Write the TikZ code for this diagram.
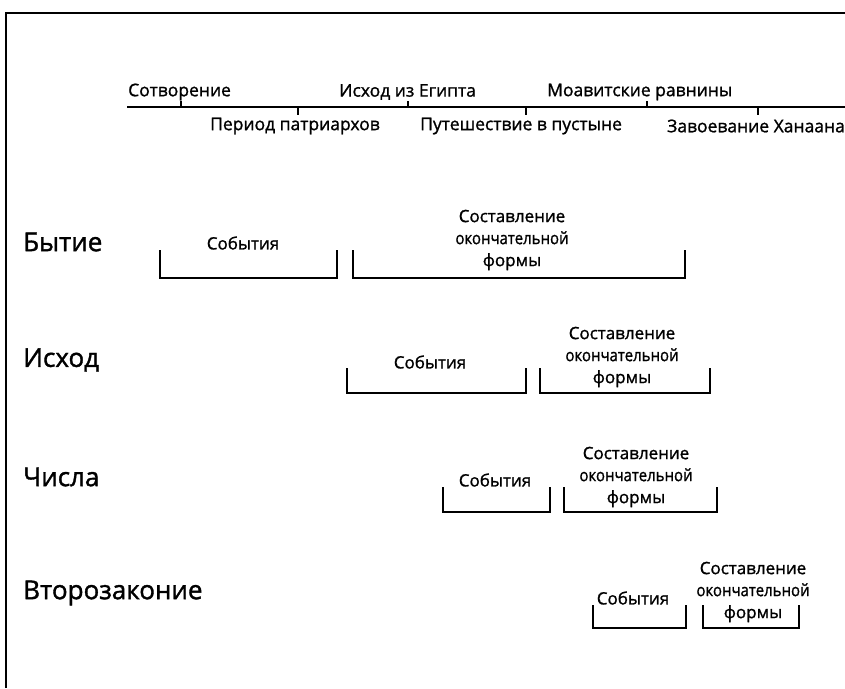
\documentclass[tikz,border=0pt]{standalone}
\usepackage{fontspec}
\setmainfont{Open Sans}
\newfontfamily\smfont[FakeBold=1.2]{Open Sans}
\newfontfamily\bkfont[FakeBold=1.4]{Open Sans}
\newcommand{\narrowword}[1]{\scalebox{0.88}[1]{#1}}
\begin{document}
\begin{tikzpicture}[x=1pt,y=-1pt,
  frame/.style={line width=2.5pt,black},
  axis/.style={line width=2pt,black},
  tick/.style={line width=1.5pt,black},
  brk/.style={line width=2pt,black},
  tl/.style={font=\smfont\fontsize{17.5}{20}\selectfont,inner sep=0pt,anchor=west},
  book/.style={font=\bkfont\fontsize{26}{30}\selectfont,inner sep=0pt,anchor=west},
  ev/.style={font=\smfont\fontsize{17}{20}\selectfont,inner sep=0pt},
  comp/.style={font=\smfont\fontsize{17}{22}\selectfont,inner sep=0pt,align=center}]
\useasboundingbox (0,0) rectangle (845,688);
\fill[white] (0,0) rectangle (845,688);
% frame
\draw[frame] (6,688) -- (6,13) -- (845,13);
% timeline
\coordinate (ts) at (127,107);
\coordinate (te) at (845,107);
\draw[axis] (ts) -- (te);
\draw[tick] (181,107) -- (181,101);
\draw[tick] (408,107) -- (408,101);
\draw[tick] (647,107) -- (647,101);
\draw[tick] (298,107) -- (298,115);
\draw[tick] (526,107) -- (526,115);
\draw[tick] (758,107) -- (758,115);
\node[tl] (t1) at (128,92) {Сотворение};
\node[tl] (t2) at (339,92) {Исход из Египта};
\node[tl] (t3) at (547,92) {Моавитские равнины};
\node[tl] (b1) at (210,126) {Период патриархов};
\node[tl] (b2) at (420,126) {Путешествие в пустыне};
\node[tl] (b3) at (667,126) {Завоевание Ханаана};
% books
\node[book] (gen) at (23,242) {Бытие};
\node[book] (exo) at (23,360) {Исход};
\node[book] (num) at (23,477) {Числа};
\node[book] (deu) at (23,593) {Второзаконие};
% row 1
\draw[brk] (160,250) |- (337,278) -- (337,250);
\draw[brk] (353,250) |- (685,278) -- (685,250);
\node[ev] (ev1) at (243,243) {События};
\node[comp] (cf1) at (512,240) {Составление\\\narrowword{окончательной}\\формы};
% row 2
\draw[brk] (347,368) |- (526,393) -- (526,368);
\draw[brk] (540,368) |- (710,393) -- (710,368);
\node[ev] (ev2) at (430,362) {События};
\node[comp] (cf2) at (622,357) {Составление\\\narrowword{окончательной}\\формы};
% row 3
\draw[brk] (443,487) |- (550,512) -- (550,487);
\draw[brk] (564,487) |- (717,512) -- (717,487);
\node[ev] (ev3) at (495,480) {События};
\node[comp] (cf3) at (636,477) {Составление\\\narrowword{окончательной}\\формы};
% row 4
\draw[brk] (593,605) |- (686,628) -- (686,605);
\draw[brk] (703,605) |- (799,628) -- (799,605);
\node[ev] (ev4) at (633,598) {События};
\node[comp] (cf4) at (753,592) {Составление\\\narrowword{окончательной}\\формы};
\end{tikzpicture}
\end{document}
